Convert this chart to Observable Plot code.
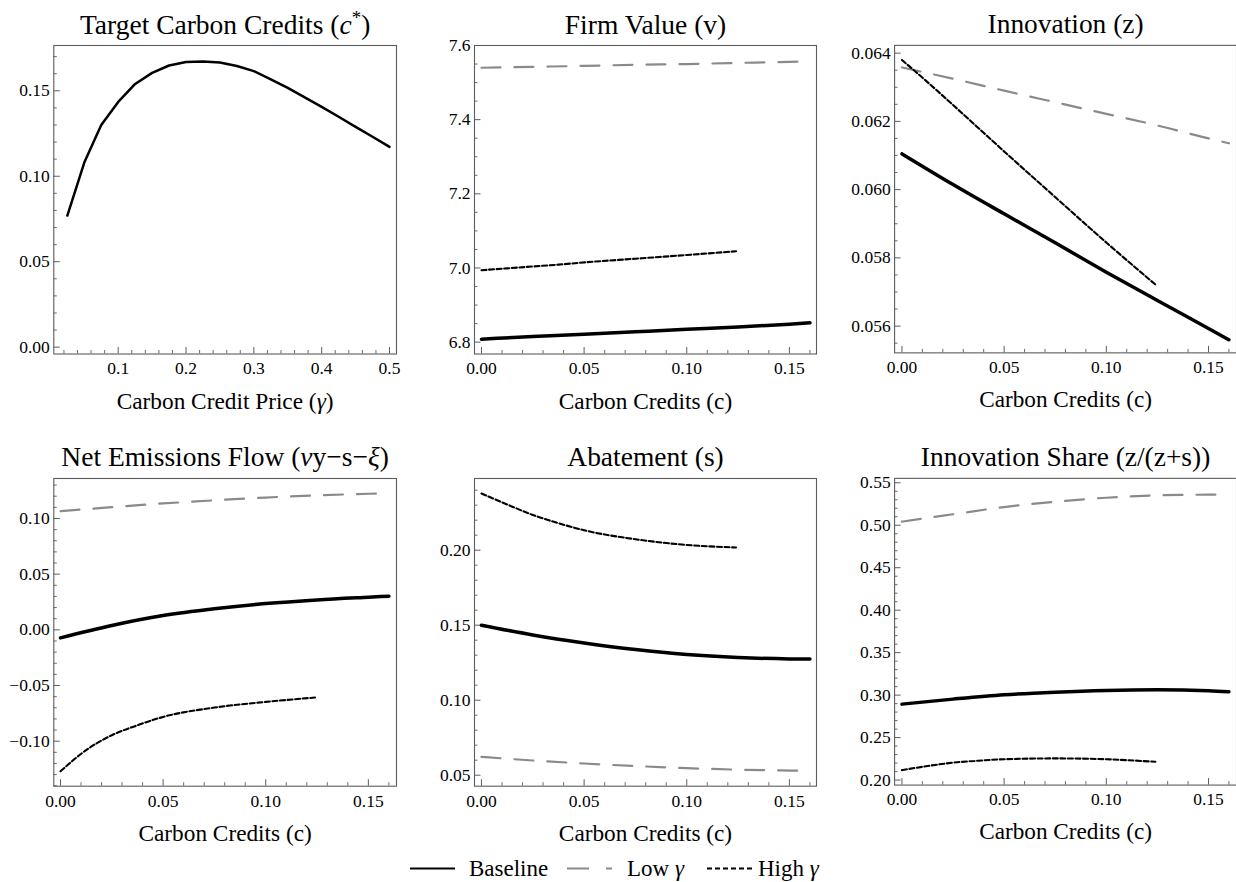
<!DOCTYPE html>
<html>
<head>
<meta charset="utf-8">
<script src="https://cdn.jsdelivr.net/npm/d3@7"></script>
<script src="https://cdn.jsdelivr.net/npm/@observablehq/plot@0.6"></script>
<style>
  html, body { margin: 0; padding: 0; background: #fff; }
  #root { position: relative; width: 1236px; height: 882px; overflow: hidden; background: #fff; color: #000; }
  #root, #root * { font-family: "Liberation Serif" !important; }
  .panel { position: absolute; }
  .legend-item { position: absolute; top: 856px; height: 26px; line-height: 26px; font-size: 23px; white-space: nowrap; }
  .legend-item svg { display: block; }
</style>
</head>
<body>
<div id="root"></div>
<script>
// ---------------- DATA ----------------
// Panel 1: target carbon credits vs carbon credit price
const gammaGrid = [0.025, 0.05, 0.075, 0.1, 0.125, 0.15, 0.175, 0.2, 0.225, 0.25, 0.275, 0.3, 0.325, 0.35, 0.375, 0.4, 0.425, 0.45, 0.475, 0.5];
const targetCredits = [0.077, 0.108, 0.130, 0.1435, 0.154, 0.1605, 0.1648, 0.1668, 0.1672, 0.1665, 0.1645, 0.1615, 0.1567, 0.1517, 0.1462, 0.1406, 0.1348, 0.1289, 0.1231, 0.1172];

// Carbon-credit grids (baseline / low gamma run to 0.16, high gamma to 0.124)
const cGrid = [0, 0.025, 0.05, 0.075, 0.1, 0.125, 0.15, 0.16];
const cGridHigh = [0, 0.0125, 0.025, 0.0375, 0.05, 0.075, 0.1, 0.124];

// Firm value (v)
const firmValueBaseline = [6.808, 6.815, 6.8215, 6.828, 6.8345, 6.841, 6.8485, 6.852];
const firmValueLow = [7.540, 7.5425, 7.545, 7.548, 7.550, 7.553, 7.556, 7.557];
const firmValueHigh = [6.994, 6.999, 7.004, 7.009, 7.015, 7.025, 7.035, 7.045];

// Innovation (z)
const innovationBaseline = [0.06105, 0.06015, 0.05929, 0.05844, 0.05758, 0.05675, 0.05593, 0.0556];
const innovationLow = [0.06358, 0.06325, 0.06290, 0.06256, 0.06222, 0.06188, 0.06150, 0.06136];
const innovationHigh = [0.0638, 0.06315, 0.06248, 0.06180, 0.06112, 0.05978, 0.05845, 0.05722];

// Net emissions flow
const emissionsBaseline = [-0.0072, 0.0039, 0.0128, 0.0189, 0.0236, 0.0269, 0.0293, 0.0302];
const emissionsLow = [0.1065, 0.1102, 0.1135, 0.1163, 0.1188, 0.1207, 0.1222, 0.1226];
const emissionsHigh = [-0.127, -0.108, -0.0946, -0.0857, -0.0782, -0.0698, -0.0647, -0.0608];

// Abatement (s)
const abatementBaseline = [0.150, 0.1435, 0.1382, 0.1338, 0.1305, 0.1285, 0.1275, 0.1274];
const abatementLow = [0.0622, 0.0598, 0.0578, 0.0561, 0.0547, 0.0537, 0.0531, 0.0529];
const abatementHigh = [0.2378, 0.2305, 0.2235, 0.218, 0.2133, 0.2073, 0.2035, 0.2018];

// Innovation share z/(z+s)
const shareBaseline = [0.2894, 0.2953, 0.3004, 0.3035, 0.3055, 0.3062, 0.3052, 0.304];
const shareLow = [0.5042, 0.5129, 0.5214, 0.5277, 0.5324, 0.5352, 0.5360, 0.5362];
const shareHigh = [0.2117, 0.2165, 0.2205, 0.2228, 0.2245, 0.2255, 0.2245, 0.2215];

// Titles, axis labels, tick labels
const titles = ["Target Carbon Credits (c*)", "Firm Value (v)", "Innovation (z)",
                "Net Emissions Flow (νy−s−ξ)", "Abatement (s)", "Innovation Share (z/(z+s))"];
const xLabels = ["Carbon Credit Price (γ)", "Carbon Credits (c)", "Carbon Credits (c)",
                 "Carbon Credits (c)", "Carbon Credits (c)", "Carbon Credits (c)"];
const legendLabels = ["Baseline", "Low γ", "High γ"];

const priceTicks = [0.1, 0.2, 0.3, 0.4, 0.5];
const creditTicks = [0, 0.05, 0.10, 0.15];
const targetTicks = [0, 0.05, 0.10, 0.15];
const firmValueTicks = [6.8, 7.0, 7.2, 7.4, 7.6];
const innovationTicks = [0.056, 0.058, 0.060, 0.062, 0.064];
const emissionsTicks = [-0.10, -0.05, 0, 0.05, 0.10];
const abatementTicks = [0.05, 0.10, 0.15, 0.20];
const shareTicks = [0.20, 0.25, 0.30, 0.35, 0.40, 0.45, 0.50, 0.55];

// ---------------- STYLE ----------------
const FRAME = "#5c5c5c";
const LOW_COLOR = "#8a8a8a";
const FONT = "Liberation Serif";
const setFont = el => el.style.setProperty("font-family", '"Liberation Serif"', "important");

const rows = (xs, ys) => xs.map((x, i) => ({x, y: ys[i]}));
const minorTicks = (lo, hi, step, majors) =>
  d3.range(Math.ceil(lo / step - 1e-9), Math.floor(hi / step + 1e-9) + 1)
    .map(k => +(k * step).toFixed(6))
    .filter(v => v >= lo && v <= hi && !majors.some(m => Math.abs(m - v) < step / 10));

function enrich(svg) {
  setFont(svg);
  svg.querySelectorAll("text").forEach(t => {
    setFont(t);
    t.setAttribute("font-family", FONT);
    const s = t.textContent;
    if (!/[γνξ*]/.test(s)) return;
    while (t.firstChild) t.removeChild(t.firstChild);
    const NS = "http://www.w3.org/2000/svg";
    let buf = "";
    let pendingDy = null;
    const flush = () => {
      if (!buf) return;
      const sp = document.createElementNS(NS, "tspan");
      sp.textContent = buf;
      if (pendingDy !== null) { sp.setAttribute("dy", pendingDy); pendingDy = null; }
      t.appendChild(sp); buf = "";
    };
    for (let i = 0; i < s.length; i++) {
      const ch = s[i];
      if ("γνξ".includes(ch)) {
        flush();
        const sp = document.createElementNS(NS, "tspan");
        sp.style.fontStyle = "italic";
        if (pendingDy !== null) { sp.setAttribute("dy", pendingDy); pendingDy = null; }
        sp.textContent = ch; t.appendChild(sp);
      } else if (ch === "c" && s[i + 1] === "*") {
        flush();
        const sp = document.createElementNS(NS, "tspan");
        sp.style.fontStyle = "italic";
        sp.textContent = "c"; t.appendChild(sp);
        const st = document.createElementNS(NS, "tspan");
        st.setAttribute("dy", "-10");
        st.setAttribute("font-size", "19");
        st.textContent = "*"; t.appendChild(st);
        pendingDy = "10";
        i++;
      } else buf += ch;
    }
    flush();
    t.querySelectorAll("tspan").forEach(setFont);
  });
}

function panel(cfg) {
  const {left, top, mL, fw, mR, fh, xDomain, yDomain, xMajor, xMinorStep, yMajor, yMinorStep,
         xFmt, yFmt, title, xlabel, lines} = cfg;
  const mT = 45, mB = 62;
  const xMinor = minorTicks(xDomain[0], xDomain[1], xMinorStep, xMajor);
  const yMinor = minorTicks(yDomain[0], yDomain[1], yMinorStep, yMajor);
  const chart = Plot.plot({
    width: mL + fw + mR,
    height: mT + fh + mB,
    marginLeft: mL, marginRight: mR, marginTop: mT, marginBottom: mB,
    x: {domain: xDomain, axis: null},
    y: {domain: yDomain, axis: null},
    style: {fontFamily: FONT, fontSize: "17.5px", color: "black", background: "transparent", overflow: "visible"},
    marks: [
      Plot.frame({stroke: FRAME, strokeWidth: 1.1}),
      Plot.tickX(xMinor, {x: d => d, insetTop: fh - 3.5, stroke: FRAME, strokeWidth: 0.9}),
      Plot.tickX(xMajor, {x: d => d, insetTop: fh - 6.5, stroke: FRAME, strokeWidth: 1}),
      Plot.tickY(yMinor, {y: d => d, insetRight: fw - 3.5, stroke: FRAME, strokeWidth: 0.9}),
      Plot.tickY(yMajor, {y: d => d, insetRight: fw - 6.5, stroke: FRAME, strokeWidth: 1}),
      Plot.axisX(xMajor, {tickSize: 0, tickPadding: 8, tickFormat: d3.format(xFmt), fontSize: 17.5, fill: "black", label: null}),
      Plot.axisY(yMajor, {tickSize: 0, tickPadding: 4, tickFormat: d3.format(yFmt), fontSize: 17.5, fill: "black", label: null}),
      ...lines,
      Plot.text([title], {text: d => d, frameAnchor: "top", dy: -12, lineAnchor: "bottom", fontSize: 27.5, fill: "black"}),
      Plot.text([xlabel], {text: d => d, frameAnchor: "bottom", dy: 54.5, lineAnchor: "bottom", fontSize: 23.3, fill: "black"})
    ]
  });
  enrich(chart);
  const div = document.createElement("div");
  div.className = "panel";
  div.style.left = left + "px";
  div.style.top = top + "px";
  div.appendChild(chart);
  document.getElementById("root").appendChild(div);
}

const lineBase = (xs, ys, w = 3.5, curve = "monotone-x") =>
  Plot.line(rows(xs, ys), {x: "x", y: "y", stroke: "black", strokeWidth: w, curve});
const lineLow = (xs, ys) =>
  Plot.line(rows(xs, ys), {x: "x", y: "y", stroke: LOW_COLOR, strokeWidth: 2.2, strokeDasharray: "19 14", curve: "monotone-x"});
const lineHigh = (xs, ys) =>
  Plot.line(rows(xs, ys), {x: "x", y: "y", stroke: "black", strokeWidth: 2.1, strokeDasharray: "5 2.6", curve: "monotone-x"});

const ROW1 = {top: 0, fh: 308.5};
const ROW2 = {top: 433.3, fh: 307.7};
const COL1 = {left: 0, mL: 53.3, fw: 342.7, mR: 8};
const COL2 = {left: 410, mL: 64, fw: 342, mR: 8};
const COL3 = {left: 830, mL: 64.3, fw: 343, mR: 0};

panel({...ROW1, ...COL1, xDomain: [0.00505, 0.5103], yDomain: [-0.004, 0.1765],
  xMajor: priceTicks, xMinorStep: 0.02, yMajor: targetTicks, yMinorStep: 0.01,
  xFmt: ".1f", yFmt: ".2f", title: titles[0], xlabel: xLabels[0],
  lines: [lineBase(gammaGrid, targetCredits, 2.5, "linear")]});

panel({...ROW1, ...COL2, xDomain: [-0.0034, 0.1632], yDomain: [6.768, 7.6],
  xMajor: creditTicks, xMinorStep: 0.01, yMajor: firmValueTicks, yMinorStep: 0.05,
  xFmt: ".2f", yFmt: ".1f", title: titles[1], xlabel: xLabels[1],
  lines: [lineLow(cGrid, firmValueLow), lineHigh(cGridHigh, firmValueHigh), lineBase(cGrid, firmValueBaseline)]});

panel({...ROW1, ...COL3, xDomain: [-0.0036, 0.1637], yDomain: [0.055216, 0.064228],
  xMajor: creditTicks, xMinorStep: 0.01, yMajor: innovationTicks, yMinorStep: 0.0005,
  xFmt: ".2f", yFmt: ".3f", title: titles[2], xlabel: xLabels[2],
  lines: [lineLow(cGrid, innovationLow), lineHigh(cGridHigh, innovationHigh), lineBase(cGrid, innovationBaseline)]});

panel({...ROW2, ...COL1, xDomain: [-0.00326, 0.1637], yDomain: [-0.1404, 0.1359],
  xMajor: creditTicks, xMinorStep: 0.01, yMajor: emissionsTicks, yMinorStep: 0.01,
  xFmt: ".2f", yFmt: ".2f", title: titles[3], xlabel: xLabels[3],
  lines: [lineLow(cGrid, emissionsLow), lineHigh(cGridHigh, emissionsHigh), lineBase(cGrid, emissionsBaseline)]});

panel({...ROW2, ...COL2, xDomain: [-0.0034, 0.1632], yDomain: [0.04267, 0.2478],
  xMajor: creditTicks, xMinorStep: 0.01, yMajor: abatementTicks, yMinorStep: 0.01,
  xFmt: ".2f", yFmt: ".2f", title: titles[4], xlabel: xLabels[4],
  lines: [lineLow(cGrid, abatementLow), lineHigh(cGridHigh, abatementHigh), lineBase(cGrid, abatementBaseline)]});

panel({...ROW2, ...COL3, xDomain: [-0.0036, 0.1637], yDomain: [0.1941, 0.5552],
  xMajor: creditTicks, xMinorStep: 0.01, yMajor: shareTicks, yMinorStep: 0.01,
  xFmt: ".2f", yFmt: ".2f", title: titles[5], xlabel: xLabels[5],
  lines: [lineLow(cGrid, shareLow), lineHigh(cGridHigh, shareHigh), lineBase(cGrid, shareBaseline)]});

// ---------------- LEGEND ----------------
const root = document.getElementById("root");
function swatch(left, stroke, width, dash) {
  const d = document.createElement("div");
  d.className = "legend-item";
  d.style.left = left + "px";
  d.innerHTML = `<svg width="45" height="26"><line x1="0" x2="45" y1="12.5" y2="12.5" stroke="${stroke}" stroke-width="${width}" ${dash ? `stroke-dasharray="${dash}"` : ""}/></svg>`;
  root.appendChild(d);
}
function label(left, html) {
  const d = document.createElement("div");
  d.className = "legend-item";
  d.style.left = left + "px";
  d.innerHTML = html;
  setFont(d);
  d.querySelectorAll("i").forEach(e => { setFont(e); e.style.fontStyle = "italic"; });
  root.appendChild(d);
}
const italicGreek = s => s.replace(/γ/g, "<i>γ</i>");
swatch(410, "black", 2.2, null);
label(469, italicGreek(legendLabels[0]));
swatch(567, LOW_COLOR, 2.2, "22 17");
label(627, italicGreek(legendLabels[1]));
swatch(707, "black", 2, "5 3");
label(758, italicGreek(legendLabels[2]));
</script>
</body>
</html>
